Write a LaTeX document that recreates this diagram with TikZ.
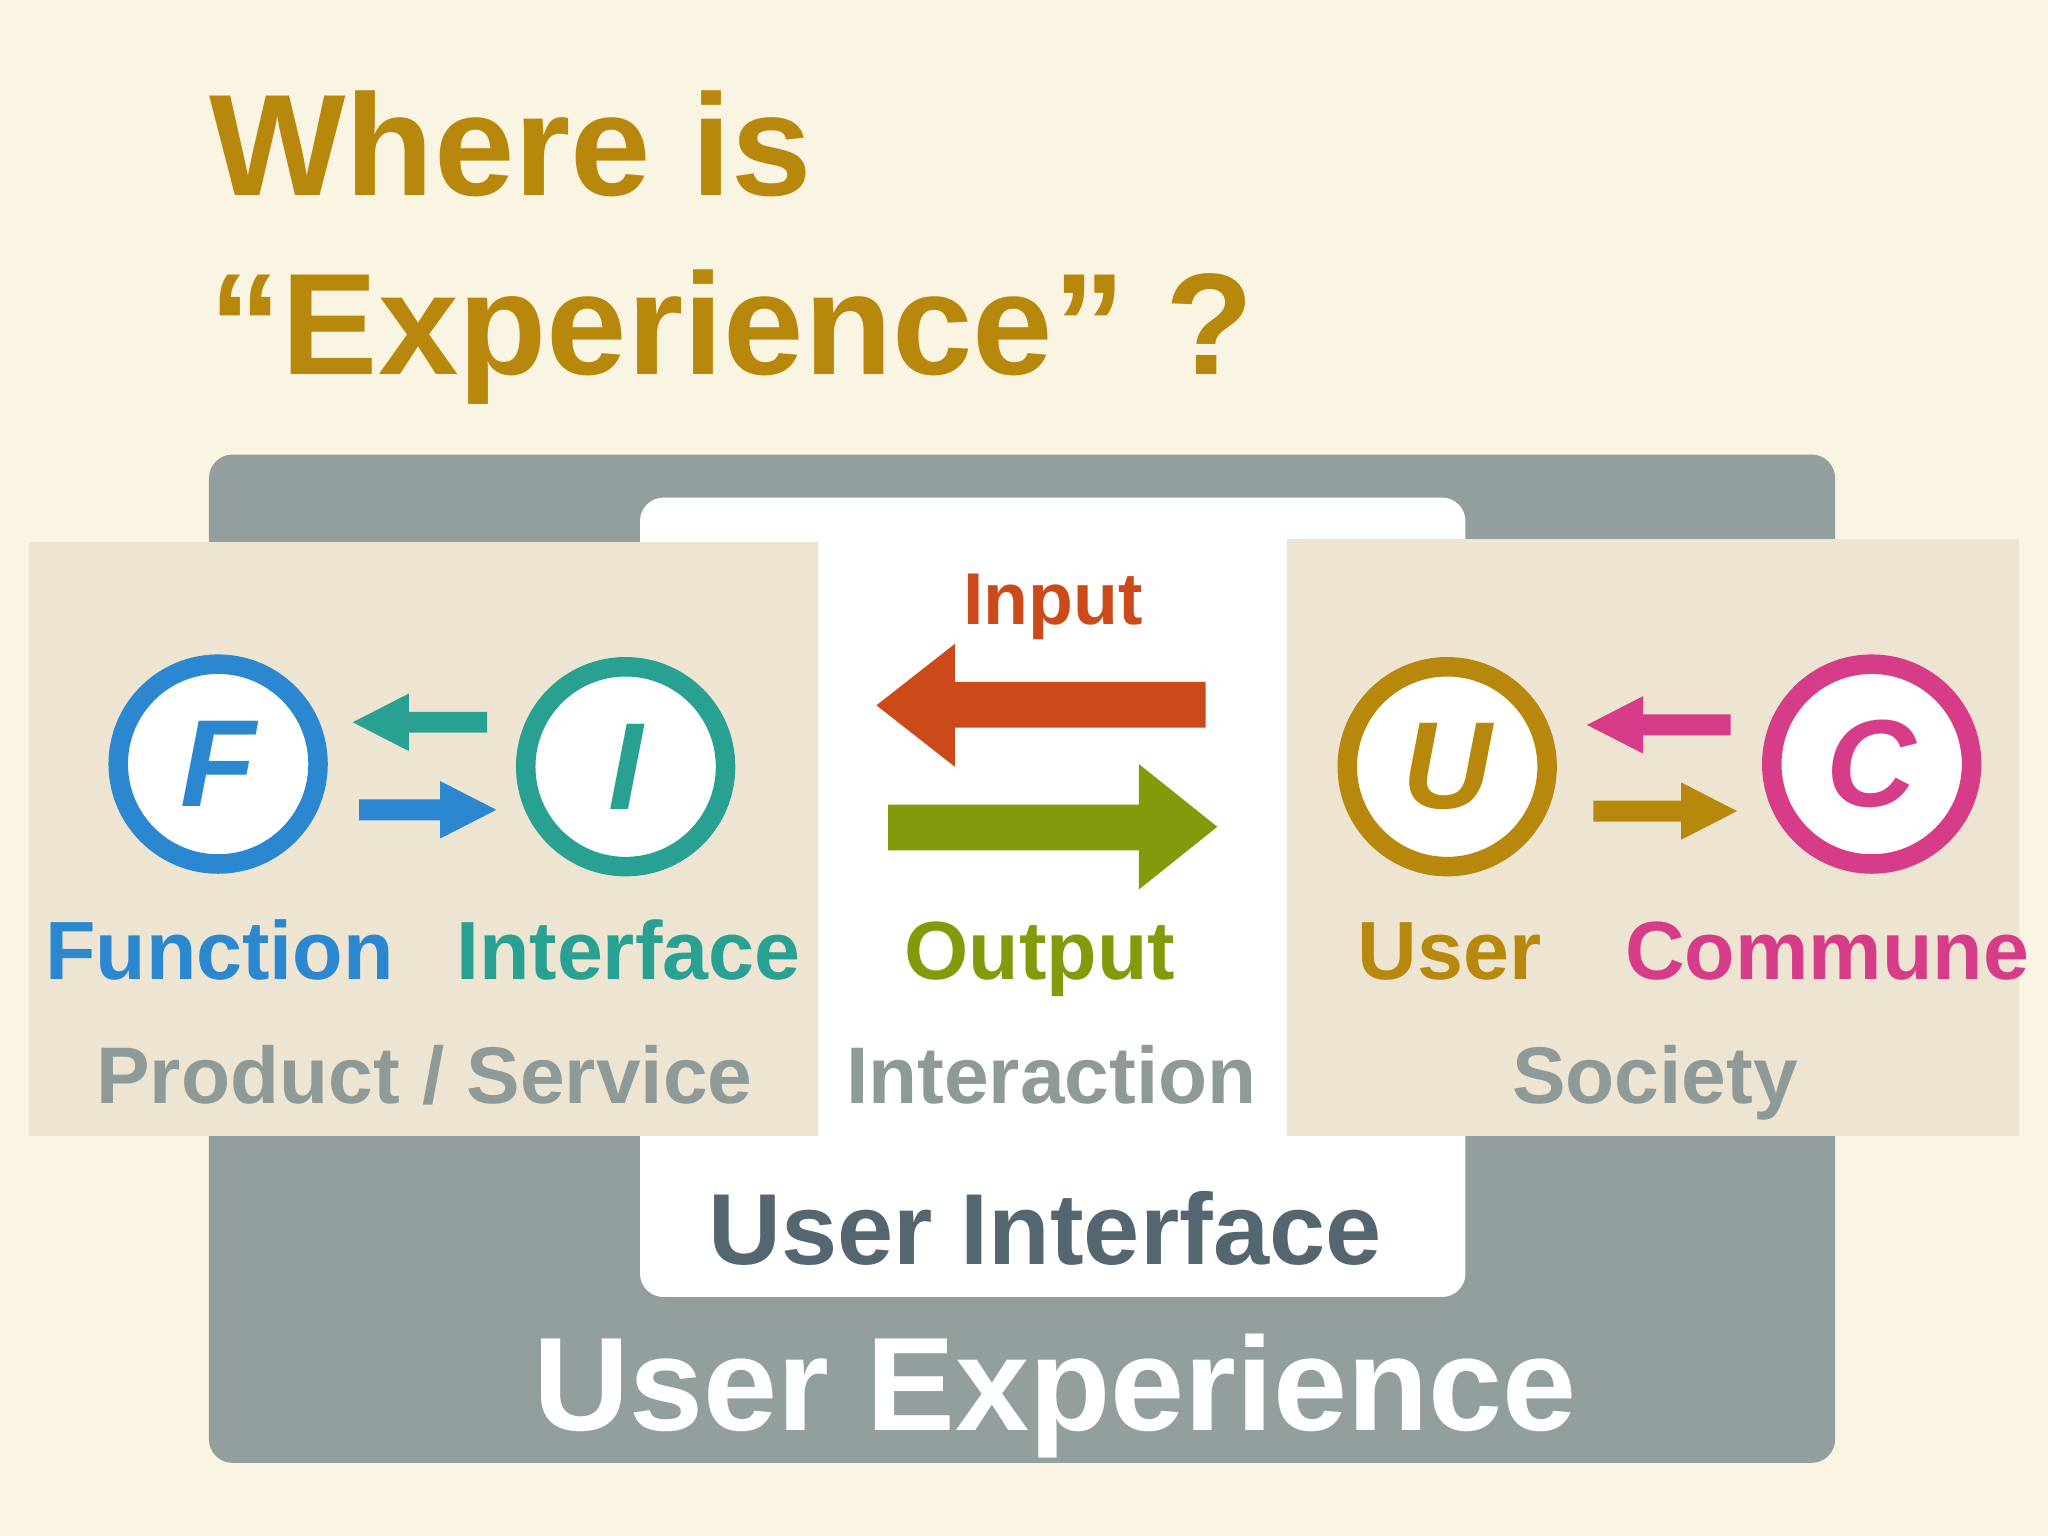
\documentclass[tikz,border=0pt]{standalone}
\usepackage{fontspec}
\setmainfont{Liberation Sans}
\definecolor{bg}{HTML}{FAF5E2}
\definecolor{gbox}{HTML}{939F9E}
\definecolor{panel}{HTML}{EDE5D2}
\definecolor{gold}{HTML}{B8880C}
\definecolor{cblue}{HTML}{2B88D0}
\definecolor{cteal}{HTML}{28A193}
\definecolor{corange}{HTML}{CC4A1A}
\definecolor{cgreen}{HTML}{819B0B}
\definecolor{cmag}{HTML}{D63C87}
\definecolor{ctext}{HTML}{8E9A98}
\definecolor{slate}{HTML}{546670}
\newcommand{\harrow}[6]{\fill[#6] (#1,{#4-#5}) -- (#2,{#4-#5}) -- (#2,{#4-22}) -- (#3,#4) -- (#2,{#4+22}) -- (#2,{#4+#5}) -- (#1,{#4+#5}) -- cycle;}
\begin{document}
\begin{tikzpicture}[x=0.02cm,y=-0.02cm,
  ring/.style={circle,draw=#1,line width=8.5pt,fill=white,minimum size=153*0.02cm,inner sep=0pt,text=#1,font=\bfseries\itshape\fontsize{54}{54}\selectfont},
  lab/.style={anchor=base,text=#1,font=\bfseries\fontsize{36}{36}\selectfont},
  sub/.style={anchor=base,text=ctext,font=\bfseries\fontsize{35}{35}\selectfont}]
\fill[bg] (0,0) rectangle (1568,1176);
\useasboundingbox (0,0) rectangle (1568,1176);
\fill[gbox,rounded corners=18*0.02cm] (160,348) rectangle (1405,1120);
\fill[white,rounded corners=18*0.02cm] (490,381) rectangle (1122,993);
\fill[panel] (22,415) rectangle (626,870);
\fill[panel] (985,413) rectangle (1546,870);
\node[anchor=base west,text=gold,font=\bfseries\fontsize{63}{63}\selectfont,inner sep=0pt] (t1) at (160,150) {Where is};
\node[anchor=base west,text=gold,font=\bfseries\fontsize{63}{63}\selectfont,inner sep=0pt] (t2) at (160,287) {“Experience” ?};
\node[ring=cblue] (F) at (167,585) {F};
\node[ring=cteal] (I) at (479,587) {I};
\node[ring=gold] (U) at (1108,587) {U};
\node[ring=cmag] (C) at (1433,585) {C};
\harrow{373}{313}{270}{553}{8}{cteal}
\harrow{275}{337}{380}{620}{8}{cblue}
\harrow{1325}{1258}{1215}{555}{8}{cmag}
\harrow{1220}{1287}{1330}{621}{8}{gold}
\fill[corange] (923,522) -- (731,522) -- (731,493) -- (671,540) -- (731,587) -- (731,557) -- (923,557) -- cycle;
\fill[cgreen] (680,616) -- (872,616) -- (872,585) -- (932,633) -- (872,681) -- (872,651) -- (680,651) -- cycle;
\node[lab=corange,font=\bfseries\fontsize{32}{32}\selectfont] (in) at (806,478) {Input};
\node[lab=cgreen] (out) at (796,750) {Output};
\node[lab=cblue] (fl) at (168,750) {Function};
\node[lab=cteal] (il) at (481,750) {Interface};
\node[lab=gold] (ul) at (1110,750) {User};
\node[lab=cmag] (cl) at (1399,750) {Commune};
\node[sub] (ps) at (325,845) {Product / Service};
\node[sub] (ia) at (805,845) {Interaction};
\node[sub] (so) at (1267,845) {Society};
\node[anchor=base,text=slate,font=\bfseries\fontsize{44}{44}\selectfont] (ui) at (800,968) {User Interface};
\node[anchor=base,text=white,font=\bfseries\fontsize{58}{58}\selectfont] (ux) at (808,1095) {User Experience};
\end{tikzpicture}
\end{document}
